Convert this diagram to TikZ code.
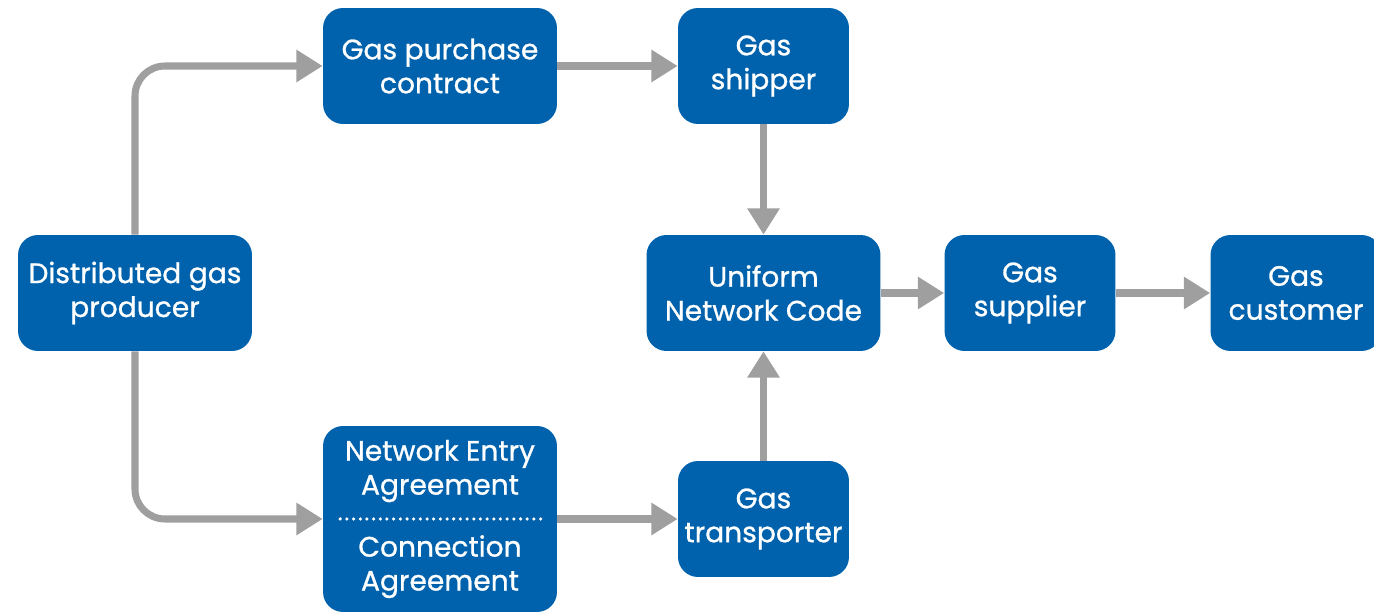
\documentclass[tikz,border=0pt]{standalone}
\usepackage{fontspec}
\newfontfamily\boxfont{Poppins}[FakeBold=0.9]
\usepackage{tikz}
\usetikzlibrary{arrows.meta}
\definecolor{boxblue}{RGB}{0,98,172}
\definecolor{arrowgray}{RGB}{158,159,158}
\tikzset{>/.tip={Triangle[length=15pt,width=17.6pt]}}

\begin{document}
\begin{tikzpicture}[x=0.02cm,y=-0.02cm,
  party/.style={fill=boxblue, text=white, rounded corners=0.4cm, align=center,
    minimum height=2.32cm, inner sep=0pt, font=\boxfont\fontsize{16}{19.3}\selectfont},
  wide/.style={party, minimum width=4.68cm},
  narrow/.style={party, minimum width=3.42cm},
  flow/.style={->, draw=arrowgray, line width=4pt}]
\useasboundingbox (0,0) rectangle (1374,614);

\node[wide] (producer) at (135,293) {Distributed gas\\producer};
\node[wide] (contract) at (440,66) {Gas purchase\\contract};
\node[narrow] (shipper) at (763.5,66) {Gas\\shipper};
\node[wide] (unc) at (763.5,293) {Uniform\\Network Code};
\node[narrow] (supplier) at (1030,293) {Gas\\supplier};
\node[narrow] (customer) at (1296,293) {Gas\\customer};
\node[wide, minimum height=3.72cm] (nea) at (440,519) {Network Entry\\Agreement\\[16pt]Connection\\Agreement};
\node[narrow] (transporter) at (763.5,519) {Gas\\transporter};

%\node (divider) at (440,519) {};
\draw[white, line width=2pt, line cap=round, dash pattern=on 0pt off 3.8pt] ([xshift=10]nea.west) -- ([xshift=-8]nea.east);

\draw[flow, rounded corners=0.6cm] (producer.north) |- (contract.west);
\draw[flow, rounded corners=0.6cm] (producer.south) |- (nea.west);
\draw[flow] (contract) -- (shipper);
\draw[flow] (shipper) -- (unc);
\draw[flow] (nea) -- (transporter);
\draw[flow] (transporter) -- (unc);
\draw[flow] (unc) -- (supplier);
\draw[flow] (supplier) -- (customer);
\end{tikzpicture}
\end{document}
